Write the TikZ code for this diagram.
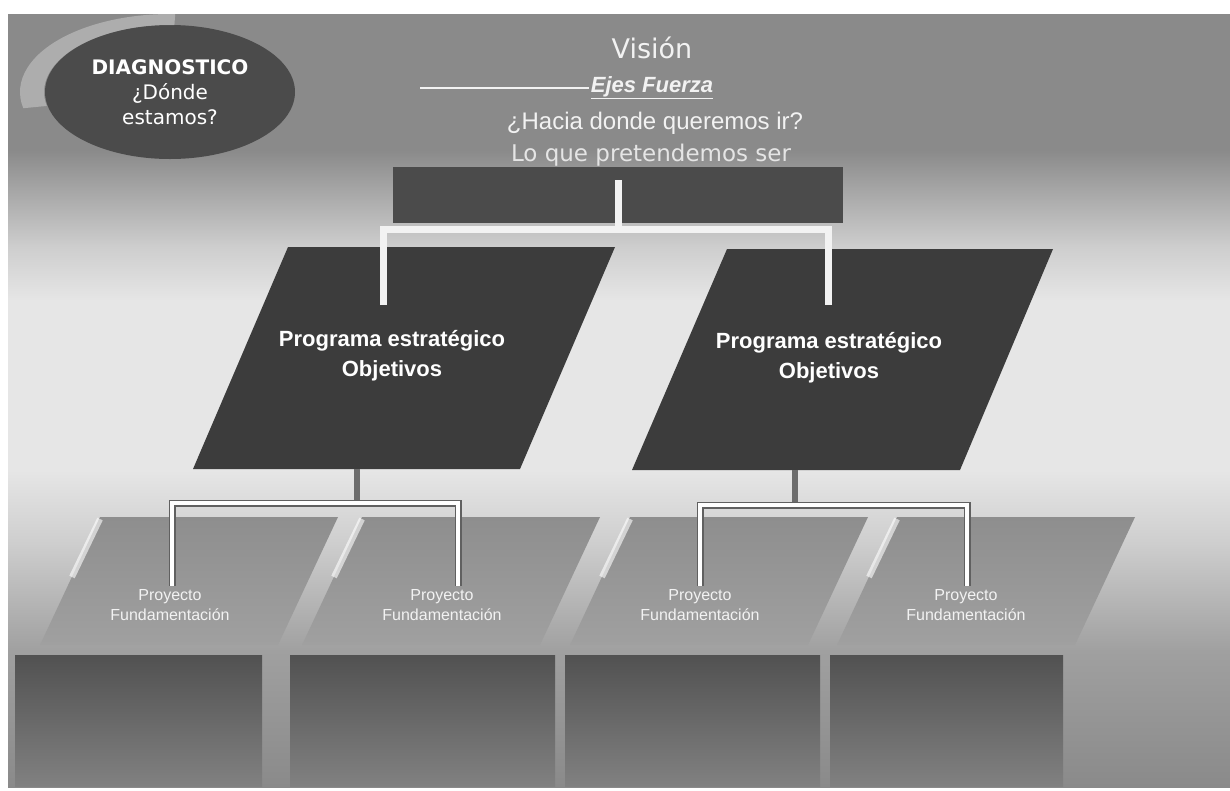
\documentclass[tikz,border=0pt]{standalone}
\usepackage{fontspec}
\setmainfont{Liberation Sans}
\newfontfamily\dejavu{DejaVu Sans}
\usetikzlibrary{positioning,calc,shapes.geometric}
\definecolor{slate}{HTML}{8A8A8A}
\definecolor{mist}{HTML}{CDCDCD}
\definecolor{haze}{HTML}{E6E6E6}
\definecolor{smoke}{HTML}{A0A0A0}
\definecolor{ash}{HTML}{4B4B4B}
\definecolor{coal}{HTML}{3C3C3C}
\definecolor{pebble}{HTML}{8E8E8E}
\definecolor{chalk}{HTML}{F2F2F2}

\begin{document}
\begin{tikzpicture}[x=1pt,y=-1pt,
    wbar/.style={chalk, line width=7pt},
    gbar/.style={draw=gray!75!black, double=white, line width=1.5pt, double distance=4pt},
    gstub/.style={gray!85!black, line width=6pt},
    progbox/.style={fill=coal},
    progtext/.style={text=white, align=center, font=\bfseries\fontsize{22}{30}\selectfont},
    tilebox/.style={top color=pebble, bottom color=smoke},
    projtext/.style={text=chalk, align=center, font=\fontsize{16}{20}\selectfont},
    toptext/.style={text=chalk, inner sep=2pt}]
  \useasboundingbox (0,0) rectangle (1230,790);
  % slide background
  \foreach \ya/\yb/\ct/\cb in {14/150/slate/slate, 150/245/slate/mist, 245/300/mist/haze,
      300/470/haze/haze, 470/545/haze/mist, 545/650/mist/smoke, 650/786/smoke/slate}
    \shade[top color=\ct, bottom color=\cb] (8,\ya) rectangle (1230,\yb+1);

  % diagnostico
  \node[ellipse, fill=ash, minimum width=250pt, minimum height=134pt, inner sep=0pt,
        text=white, align=center, font=\dejavu\fontsize{20}{25}\selectfont] (diag) at (170,92)
        {{\bfseries DIAGNOSTICO}\\¿Dónde\\estamos?};
  \fill[white, opacity=.3] ($(diag.center)+(168:150 and 78)$)
      arc[start angle=168, end angle=272, x radius=150, y radius=78]
      -- ($(diag.center)+(272:126 and 67)$)
      arc[start angle=272, end angle=168, x radius=126, y radius=67] -- cycle;

  % vision
  \node[toptext, font=\dejavu\fontsize{27}{30}\selectfont] (vision) at (652,48) {Visión};
  \node[toptext, font=\bfseries\itshape\fontsize{22}{26}\selectfont] (ejes) at (652,88) {\underline{Ejes Fuerza}};
  \node[toptext, font=\fontsize{24}{28}\selectfont] (hacia) at (655,123) {¿Hacia donde queremos ir?};
  \node[toptext, text=gray!20, font=\dejavu\fontsize{23}{27}\selectfont] (pretend) at (651,155) {Lo que pretendemos ser};
  \coordinate (lineA) at (420,88);
  \draw[chalk, line width=2.5pt] (lineA) -- (ejes.west);
  \node[fill=ash, minimum width=450pt, minimum height=56pt, inner sep=0pt] (visbox) at (618,195) {};

  % programas
  \fill[progbox] (288,247) -- (615,247) -- (520,469) -- (193,469) -- cycle;
  \fill[progbox] (727,249) -- (1053,249) -- (960,470) -- (632,470) -- cycle;
  \node[progtext] (progL) at (392,356) {Programa estratégico\\Objetivos};
  \node[progtext] (progR) at (829,358) {Programa estratégico\\Objetivos};

  \coordinate (barL) at (383,229);
  \coordinate (barR) at (828,229);
  \coordinate (stubL) at (383,305);
  \coordinate (stubR) at (828,305);
  \draw[wbar] (stubL) -- (barL) -- (barR) -- (stubR);
  \draw[wbar] (visbox.center |- 0,180) -- (visbox.center |- barL);

  % proyectos
  \foreach \tx/\px [count=\i] in {100/170, 362/442, 630/700, 897/966} {
    \shade[tilebox] (\tx,517) -- (\tx+238,517) -- (\tx+178,645) -- (\tx-60,645) -- cycle;
    \draw[white, opacity=.6, line width=6pt] (\tx,519) -- (\tx-28,577);
    \node[projtext] (proj\i) at (\px,605) {Proyecto\\Fundamentación};
  }
  \foreach \ba/\bb in {15/262, 290/555, 565/820, 830/1063}
    \shade[top color=ash!90!slate, bottom color=slate!85!ash] (\ba,655) rectangle (\bb,786);

  \coordinate (footL) at (357,469);
  \coordinate (footR) at (795,470);
  \coordinate (cornA) at (172,503);
  \coordinate (cornB) at (458,503);
  \coordinate (cornC) at (700,505);
  \coordinate (cornD) at (967,505);
  \draw[gstub] (footL) -- (footL |- cornA);
  \draw[gstub] (footR) -- (footR |- cornC);
  \draw[gbar] (cornA |- proj1.north) -- (cornA) -- (cornB) -- (cornB |- proj2.north);
  \draw[gbar] (cornC |- proj3.north) -- (cornC) -- (cornD) -- (cornD |- proj4.north);
\end{tikzpicture}
\end{document}
